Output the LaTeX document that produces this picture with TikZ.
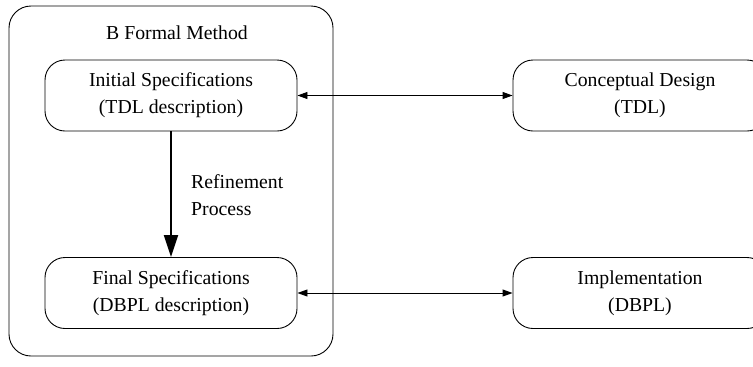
\documentclass[tikz,border=0pt]{standalone}
\usepackage{fontspec}
\setmainfont{Liberation Serif}
\usetikzlibrary{arrows.meta}

\tikzset{
  specbox/.style={draw,line width=0.9bp,rounded corners=20bp,align=center,
    minimum width=252bp,minimum height=71bp,inner sep=0pt},
  dblarrow/.style={{Triangle[width=7bp,length=10bp]}-{Triangle[width=7bp,length=10bp]},line width=0.9bp},
  refarrow/.style={-{Triangle[width=14bp,length=22bp]},line width=2bp}
}

\begin{document}
\begin{tikzpicture}[x=1bp,y=-1bp,font=\fontsize{19.75bp}{27bp}\selectfont]
\useasboundingbox (0,0) rectangle (753,366);
\node (bfm)   at (171.0, 181.0) [draw,line width=0.9bp,rounded corners=22bp,minimum width=324bp,minimum height=350bp] {};
\node (title) at (177.0,  33.0) {B Formal Method};
\node (initspec)  at (171.0,  95.5) [specbox] {Initial Specifications\\(TDL description)};
\node (finalspec) at (171.0, 293.0) [specbox] {Final Specifications\\(DBPL description)};
\node (concdesign) at (640.0,  95.5) [specbox,minimum width=254bp] {Conceptual Design\\(TDL)};
\node (implement)  at (640.0, 293.0) [specbox,minimum width=254bp] {Implementation\\(DBPL)};
\node (refproc) at (191.0, 195.0) [anchor=west,align=left,inner sep=0pt] {Refinement\\Process};

\draw [refarrow] (initspec) -- (finalspec);
\draw [dblarrow] (initspec)  -- (concdesign);
\draw [dblarrow] (finalspec) -- (implement);
\end{tikzpicture}
\end{document}
